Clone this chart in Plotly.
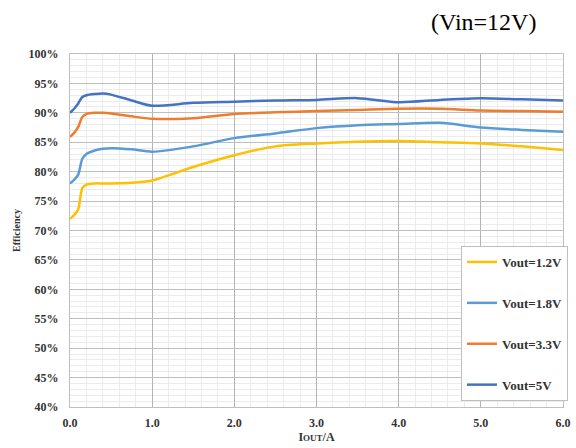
import plotly.graph_objects as go

# Output current (A)
iout = [0.0, 0.05, 0.1, 0.15, 0.2, 0.3, 0.4, 0.5, 0.75, 1.0, 1.5, 2.0, 2.5, 3.0, 3.5, 4.0, 4.5, 5.0, 5.5, 6.0]

# Efficiency (%) per output voltage
eff_1v2 = [72.0, 72.6, 73.6, 77.2, 77.8, 78.0, 78.0, 78.0, 78.1, 78.5, 80.8, 82.8, 84.3, 84.8, 85.1, 85.2, 85.0, 84.8, 84.3, 83.7]
eff_1v8 = [78.0, 78.6, 79.5, 82.2, 83.0, 83.6, 83.9, 84.0, 83.8, 83.4, 84.3, 85.7, 86.5, 87.4, 87.9, 88.1, 88.3, 87.5, 87.1, 86.8]
eff_3v3 = [85.9, 86.6, 87.6, 89.3, 89.8, 90.0, 90.0, 89.9, 89.4, 89.0, 89.1, 89.8, 90.1, 90.3, 90.5, 90.7, 90.7, 90.4, 90.3, 90.2]
eff_5v0 = [90.0, 90.7, 91.6, 92.7, 93.0, 93.2, 93.3, 93.1, 92.1, 91.2, 91.7, 91.9, 92.1, 92.2, 92.5, 91.8, 92.2, 92.5, 92.3, 92.1]

names = ["Vout=1.2V", "Vout=1.8V", "Vout=3.3V", "Vout=5V"]
colors = ["#FFC000", "#5B9BD5", "#ED7D31", "#4472C4"]
series = [eff_1v2, eff_1v8, eff_3v3, eff_5v0]

x_ticks = [0, 1, 2, 3, 4, 5, 6]
x_ticklabels = ["0.0", "1.0", "2.0", "3.0", "4.0", "5.0", "6.0"]
y_ticks = [40, 45, 50, 55, 60, 65, 70, 75, 80, 85, 90, 95, 100]
y_ticklabels = ["40%", "45%", "50%", "55%", "60%", "65%", "70%", "75%", "80%", "85%", "90%", "95%", "100%"]

FONT = "Liberation Serif"

fig = go.Figure()
for i, (name, col, ys) in enumerate(zip(names, colors, series)):
    fig.add_trace(go.Scatter(
        x=iout, y=ys, name=name, mode="lines",
        line=dict(color=col, width=2.5, shape="spline", smoothing=0.8),
        legendgroup=f"g{i}",
    ))

fig.update_layout(
    width=576, height=448,
    margin=dict(l=70, r=13, t=54, b=41, autoexpand=False),
    paper_bgcolor="white", plot_bgcolor="white",
    font=dict(family=FONT, color="#333333"),
    showlegend=True,
    legend=dict(
        x=(461 - 70) / 493, y=(407 - 246) / 353, xanchor="left", yanchor="top",
        bgcolor="white", bordercolor="#BFBFBF", borderwidth=1,
        font=dict(family=FONT, size=13, color="#333333", weight="bold"),
        tracegroupgap=21, itemwidth=30,
    ),
    annotations=[dict(
        text="(Vin=12V)", x=(483 - 70) / 493, y=(407 - 22) / 353,
        xref="paper", yref="paper", xanchor="center", yanchor="middle",
        showarrow=False, font=dict(family=FONT, size=24, color="black"),
    )],
)

fig.update_xaxes(
    range=[0, 6], tickvals=x_ticks, ticktext=x_ticklabels,
    showgrid=True, gridcolor="#B4B4B4", gridwidth=1,
    minor=dict(dtick=0.2, showgrid=True, gridcolor="#EBEBEB", gridwidth=1),
    showline=True, linecolor="#BFBFBF", linewidth=1, mirror=True,
    zeroline=False, ticks="", ticklabelstandoff=5,
    tickfont=dict(family=FONT, size=12, color="#333333", weight="bold"),
    title=dict(text="I<span style='font-size:9px'>OUT</span>/A", standoff=3,
               font=dict(family=FONT, size=12, color="#333333", weight="bold")),
)
fig.update_yaxes(
    range=[40, 100], tickvals=y_ticks, ticktext=y_ticklabels,
    showgrid=True, gridcolor="#BFBFBF", gridwidth=1,
    minor=dict(dtick=1, showgrid=True, gridcolor="#EBEBEB", gridwidth=1),
    showline=True, linecolor="#BFBFBF", linewidth=1, mirror=True,
    zeroline=False, ticks="", ticklabelstandoff=8,
    tickfont=dict(family=FONT, size=12, color="#333333", weight="bold"),
    title=dict(text="Efficiency", standoff=6,
               font=dict(family=FONT, size=10, color="#333333", weight="bold")),
)

fig.write_html("out.html")
